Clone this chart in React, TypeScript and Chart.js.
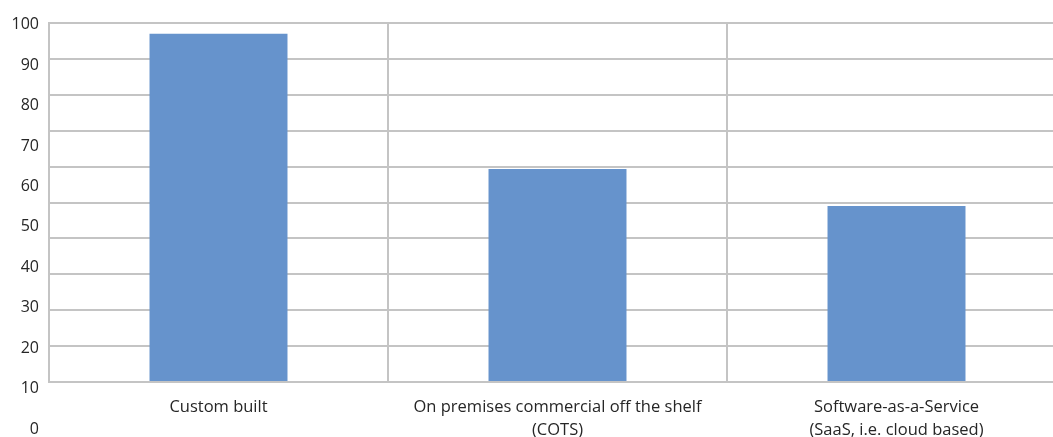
import React, { useEffect, useRef } from 'react';
import { Chart, registerables } from 'chart.js';

Chart.register(...registerables);

const categories: string[][] = [
  ['Custom built'],
  ['On premises commercial off the shelf', '(COTS)'],
  ['Software-as-a-Service', '(SaaS, i.e. cloud based)'],
];
const values: number[] = [97, 59.3, 49];
const yTickLabels: number[] = [0, 10, 20, 30, 40, 50, 60, 70, 80, 90, 100];

const FONT = "'Open Sans', 'Noto Sans', sans-serif";
const GRID = '#c4c4c4';
const TEXT = '#262626';

export default function App() {
  const ref = useRef<HTMLCanvasElement | null>(null);

  useEffect(() => {
    if (!ref.current) return;
    const chart = new Chart(ref.current, {
      type: 'bar',
      data: {
        labels: categories,
        datasets: [
          {
            data: values,
            backgroundColor: '#6693cc',
            borderWidth: 0,
            barPercentage: 0.407,
            categoryPercentage: 1,
            yAxisID: 'y',
          },
        ],
      },
      options: {
        animation: false,
        responsive: false,
        maintainAspectRatio: false,
        layout: { padding: { top: 23, left: 0, right: 0, bottom: 0 } },
        plugins: { legend: { display: false }, tooltip: { enabled: false } },
        scales: {
          x: {
            grid: { display: true, color: GRID, lineWidth: 2, drawTicks: false, offset: true },
            border: { display: true, color: GRID, width: 2 },
            ticks: {
              color: TEXT,
              font: { family: FONT, size: 16.5, lineHeight: 1.4 },
              padding: 14,
              maxRotation: 0,
              autoSkip: false,
            },
            afterFit: (s: any) => {
              s.height = 55;
            },
          },
          y: {
            position: 'left',
            weight: 0,
            min: 0,
            max: 100,
            grid: { color: GRID, lineWidth: 2, drawTicks: false },
            border: { display: true, color: GRID, width: 2 },
            ticks: { display: false, stepSize: 10 },
            afterFit: (s: any) => {
              s.width = 0;
            },
          },
          yLabels: {
            type: 'linear',
            position: 'left',
            weight: 1,
            min: 11.69,
            max: 100.37,
            grid: { display: false, drawTicks: false },
            border: { display: false },
            ticks: {
              color: TEXT,
              font: { family: FONT, size: 16 },
              padding: 10,
              autoSkip: false,
            },
            afterBuildTicks: (s: any) => {
              s.ticks = yTickLabels.map((v) => ({ value: v }));
            },
            afterFit: (s: any) => {
              s.width = 49;
            },
          },
        },
      } as any,
    });
    return () => chart.destroy();
  }, []);

  return (
    <div style={{ position: 'fixed', left: 0, top: 0, width: 1053, height: 437, overflow: 'hidden', background: '#fff' }}>
      <canvas ref={ref} width={1066} height={437} style={{ display: 'block', width: 1066, height: 437 }} />
    </div>
  );
}
